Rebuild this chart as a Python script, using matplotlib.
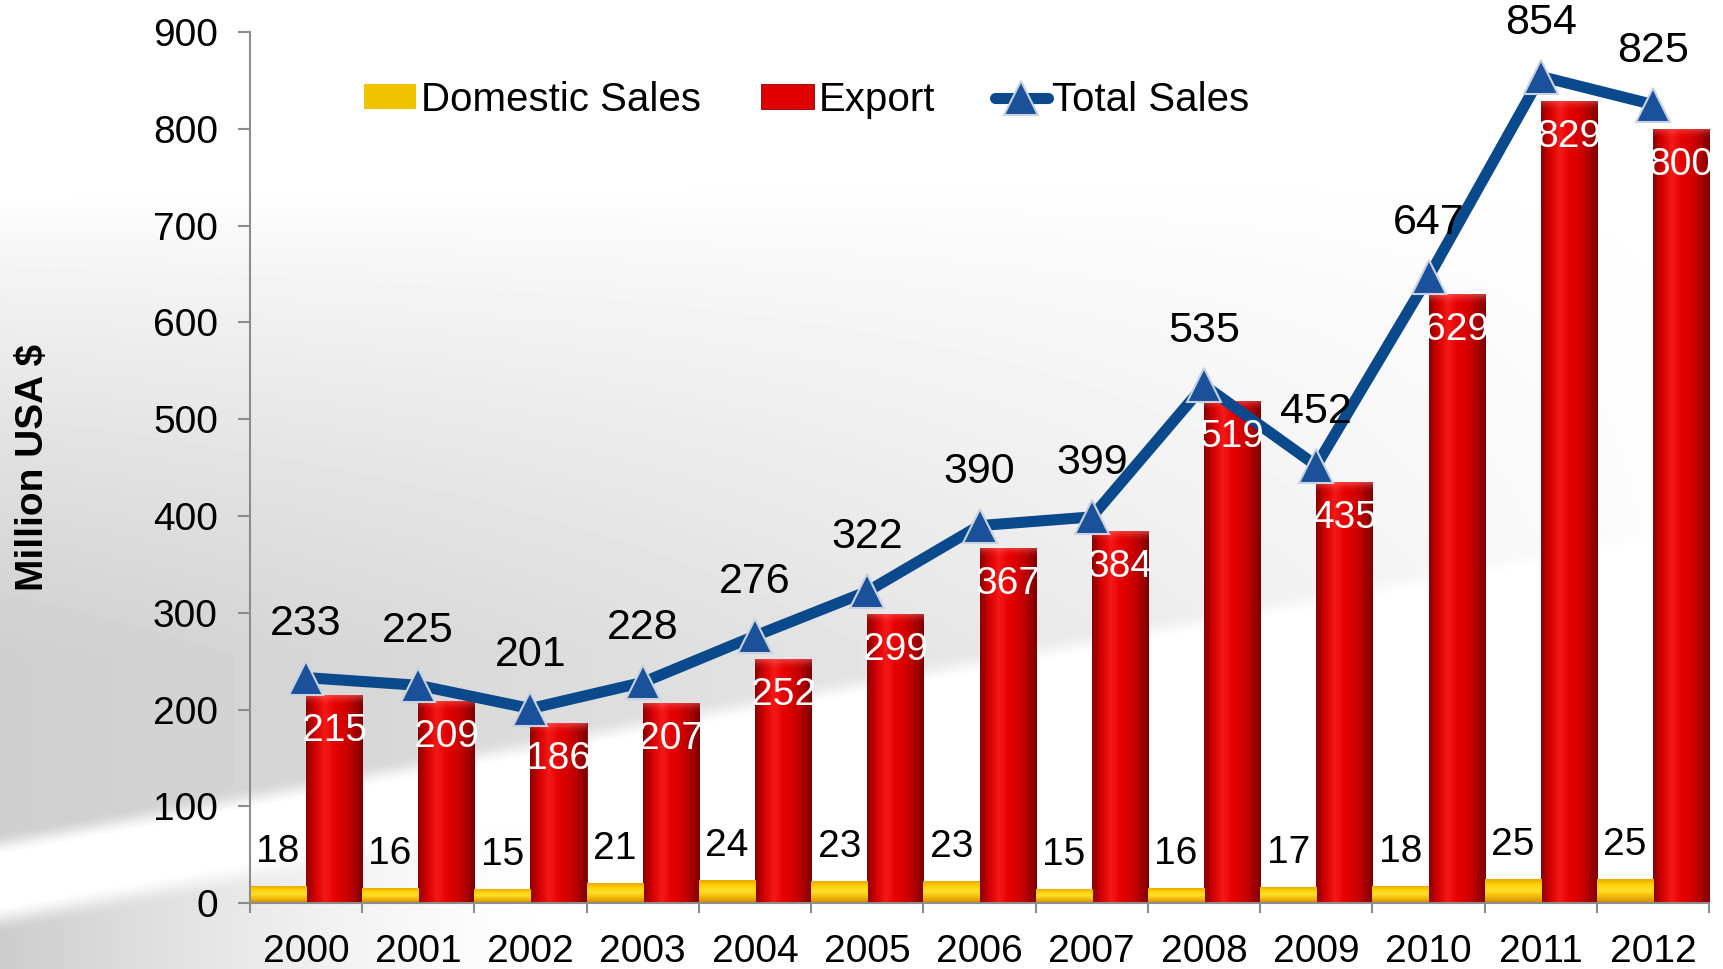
import numpy as np
import matplotlib
matplotlib.use('Agg')
import matplotlib.pyplot as plt
from matplotlib.colors import LinearSegmentedColormap

years = ['2000', '2001', '2002', '2003', '2004', '2005', '2006',
         '2007', '2008', '2009', '2010', '2011', '2012']
domestic = [18, 16, 15, 21, 24, 23, 23, 15, 16, 17, 18, 25, 25]
export = [215, 209, 186, 207, 252, 299, 367, 384, 519, 435, 629, 829, 800]
total = [233, 225, 201, 228, 276, 322, 390, 399, 535, 452, 647, 854, 825]
yticks = [0, 100, 200, 300, 400, 500, 600, 700, 800, 900]

plt.rcParams['font.family'] = ['Liberation Sans', 'DejaVu Sans']

fig = plt.figure(figsize=(17.23, 9.69), dpi=100)

# ---- background swoosh ----
bg = fig.add_axes([0, 0, 1, 1], zorder=-10)
bg.set_axis_off()
ny, nx = 300, 500
fy, fx = np.mgrid[0:1:ny * 1j, 0:1:nx * 1j]


def ramp(v, w):
    t = np.clip(v / w, 0, 1)
    return t * t * (3 - 2 * t)


lower = 0.115 + 0.33 * fx
lower2 = lower - 0.05
upper = 0.80 + 0.03 * fx
dark = 0.19 * (1 - fx) ** 0.85 * ramp(fy - lower, 0.025) * np.clip((upper - fy) / 0.48, 0, 1) ** 0.8
dark += 0.20 * np.clip(1 - fx * 3.0, 0, 1) ** 1.5 * ramp(lower2 - fy, 0.03)
img = 1 - dark
bg.imshow(img, extent=[0, 1, 0, 1], origin='lower', cmap='gray', vmin=0, vmax=1,
          aspect='auto', interpolation='bilinear')
bg.set_xlim(0, 1)
bg.set_ylim(0, 1)

# ---- main axes ----
ax = fig.add_axes([0.145, 0.068, 0.847, 0.899])
ax.patch.set_alpha(0)

x = np.arange(len(years))
bd = ax.bar(x - 0.25, domestic, width=0.5, color='#f2c200', edgecolor='none',
            zorder=2, label='Domestic Sales')
be = ax.bar(x + 0.25, export, width=0.5, color='#e00000', edgecolor='#8a0000',
            linewidth=0.6, zorder=2, label='Export')

red_cmap = LinearSegmentedColormap.from_list(
    'r', ['#8c0000', '#d80000', '#f41a1a', '#e60000', '#d60000', '#b40000', '#7a0000'])
gold_cmap = LinearSegmentedColormap.from_list(
    'g', ['#d08a00', '#f2b800', '#ffe030', '#ffd000', '#e0a000'])
hgrad = np.linspace(0, 1, 64).reshape(1, -1)
vgrad = np.linspace(0, 1, 64).reshape(-1, 1)

for r in be:
    x0, w, h = r.get_x(), r.get_width(), r.get_height()
    im = ax.imshow(hgrad, extent=[x0, x0 + w, 0, h], cmap=red_cmap, aspect='auto',
                   zorder=2.1, interpolation='bilinear')
    im.set_clip_path(r)
    top = np.linspace(0, 1, 32)
    hi = np.ones((32, 1, 4))
    hi[..., 1] = 0.45
    hi[..., 2] = 0.45
    hi[..., 3] = (top ** 2 * 0.55).reshape(-1, 1)
    im2 = ax.imshow(hi, extent=[x0, x0 + w, h - 12, h], aspect='auto', zorder=2.2,
                    origin='lower', interpolation='bilinear')
    im2.set_clip_path(r)

for r in bd:
    x0, w, h = r.get_x(), r.get_width(), r.get_height()
    im = ax.imshow(vgrad, extent=[x0, x0 + w, 0, h], cmap=gold_cmap, aspect='auto',
                   origin='lower', zorder=2.1, interpolation='bilinear')
    im.set_clip_path(r)

ln, = ax.plot(x, total, color='#0a4a8c', lw=8, marker='^', ms=25, mfc='#1a519a',
              mec='#c9d2de', mew=1.5, zorder=4, solid_capstyle='round',
              label='Total Sales')

# ---- data labels ----
for i in range(len(years)):
    ax.annotate(str(total[i]), (x[i], total[i]), xytext=(0, 54),
                textcoords='offset pixels', ha='center', va='center',
                fontsize=31, color='black', zorder=6)
    ax.annotate(str(export[i]), (x[i] + 0.25, export[i]), xytext=(0, -36),
                textcoords='offset pixels', ha='center', va='center',
                fontsize=28, color='white', zorder=6)
    ax.annotate(str(domestic[i]), (x[i] - 0.25, domestic[i]), xytext=(0, 34),
                textcoords='offset pixels', ha='center', va='center',
                fontsize=28, color='black', zorder=6)

# ---- axes styling ----
ax.set_xlim(-0.5, len(years) - 0.5)
ax.set_ylim(0, 900)
ax.set_yticks(yticks)
ax.set_yticklabels([str(v) for v in yticks])
ax.set_xticks(x)
ax.set_xticklabels(years)
ax.set_xticks(np.arange(-0.5, len(years), 1.0), minor=True)

for s in ['top', 'right']:
    ax.spines[s].set_visible(False)
for s in ['left', 'bottom']:
    ax.spines[s].set_color('#8c8c8c')
    ax.spines[s].set_linewidth(1.5)

ax.tick_params(axis='y', which='major', direction='out', length=9, width=1.5,
               color='#8c8c8c', labelsize=28, pad=14)
ax.tick_params(axis='x', which='major', length=0, labelsize=28, pad=22)
ax.tick_params(axis='x', which='minor', direction='out', length=7, width=1.5,
               color='#8c8c8c')

ax.set_ylabel('Million USA $', fontsize=28, fontweight='bold')
ax.yaxis.set_label_coords(-0.136, 0.5)

leg = ax.legend(handles=[bd, be, ln], loc='center left',
                bbox_to_anchor=(0.19, 0.897),
                bbox_transform=fig.transFigure, ncol=3, frameon=False,
                fontsize=29, handlelength=1.3, handleheight=0.55,
                handletextpad=0.12, columnspacing=1.5, numpoints=1)

fig.savefig('out.png', dpi=100)
